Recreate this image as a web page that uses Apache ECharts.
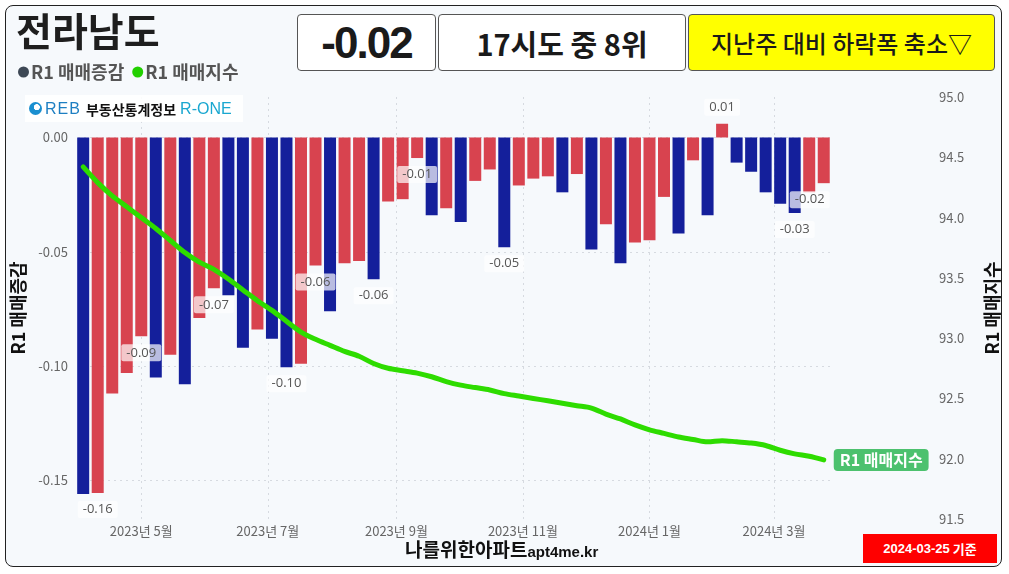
<!DOCTYPE html>
<html>
<head>
<meta charset="utf-8">
<title>전라남도 R1 매매</title>
<script src="https://cdn.jsdelivr.net/npm/echarts@6/dist/echarts.min.js"></script>
<style>
body { margin: 0; background: #fff; font-family: 'Noto Sans CJK KR', sans-serif; }
#card { position: absolute; left: 5px; top: 5px; width: 995px; height: 560px; border: 1.5px solid #222; border-radius: 8px; background: #f6f9fc; }
#chart { position: absolute; left: 0; top: 0; width: 1009px; height: 574px; }
.box { position: absolute; top: 14px; height: 57px; box-sizing: border-box; border: 1px solid #555; border-radius: 4px; background: #fff;
       display: flex; align-items: center; justify-content: center; color: #1a1a1a; }
#logo { position: absolute; left: 25px; top: 95px; width: 218px; height: 27px; background: rgba(255,255,255,0.9);
        display: flex; align-items: center; white-space: nowrap; }
#logo .ic { display: inline-block; width: 13px; height: 13px; border-radius: 50%; margin: 0 3px 0 4px;
            background: radial-gradient(circle at 60% 40%, #fff 0 25%, #1a8fd0 30% 100%); }
#foot { position: absolute; left: 405px; top: 535px; font-weight: bold; color: #111; white-space: nowrap; }
#date { position: absolute; left: 863px; top: 534px; width: 134px; height: 29px; background: #f00; color: #fff;
        display: flex; align-items: center; justify-content: center; font-size: 13px; font-weight: bold; }
</style>
</head>
<body>
<div id="card"></div>
<div id="chart"></div>

<div class="box" style="left:297px;width:139px;font-family:'Liberation Sans',Arial,sans-serif;font-weight:bold;font-size:44px;letter-spacing:-2px;">-0.02</div>
<div class="box" style="left:438px;width:248px;font-weight:bold;font-size:29px;">17시도 중 8위</div>
<div class="box" style="left:688px;width:307px;background:#ffff00;font-size:24px;font-weight:500;">지난주 대비 하락폭 축소▽</div>

<div id="logo">
  <span class="ic"></span>
  <span style="color:#1d7fc2;font-family:'Liberation Sans',sans-serif;font-size:16px;letter-spacing:1px;">REB</span>
  <span style="font-size:14px;font-weight:bold;color:#111;margin-left:5px;">부동산통계정보</span>
  <span style="color:#19a7d0;font-family:'Liberation Sans',sans-serif;font-size:16px;margin-left:4px;">R-ONE</span>
</div>

<div id="foot"><span style="font-size:19px;">나를위한아파트</span><span style="font-size:15px;font-family:'Liberation Sans',sans-serif;">apt4me.kr</span></div>
<div id="date"><span style="font-family:'Liberation Sans',sans-serif;">2024-03-25</span>&nbsp;기준</div>

<script>
// 주간 데이터 (2023-04-03 ~ 2024-03-25)
var weeks = [
    '2023-04-03','2023-04-10','2023-04-17','2023-04-24','2023-05-01','2023-05-08','2023-05-15','2023-05-22','2023-05-29',
    '2023-06-05','2023-06-12','2023-06-19','2023-06-26','2023-07-03','2023-07-10','2023-07-17','2023-07-24','2023-07-31',
    '2023-08-07','2023-08-14','2023-08-21','2023-08-28','2023-09-04','2023-09-11','2023-09-18','2023-09-25',
    '2023-10-02','2023-10-09','2023-10-16','2023-10-23','2023-10-30','2023-11-06','2023-11-13','2023-11-20','2023-11-27',
    '2023-12-04','2023-12-11','2023-12-18','2023-12-25','2024-01-01','2024-01-08','2024-01-15','2024-01-22','2024-01-29',
    '2024-02-05','2024-02-12','2024-02-19','2024-02-26','2024-03-04','2024-03-11','2024-03-18','2024-03-25'
];

// R1 매매증감 (%)
var changes = [
    -0.156, -0.1555, -0.112, -0.103, -0.087, -0.105, -0.095, -0.108, -0.079,
    -0.066, -0.069, -0.092, -0.084, -0.088, -0.1005, -0.099, -0.056, -0.076,
    -0.055, -0.054, -0.062, -0.028, -0.027, -0.009, -0.034, -0.031,
    -0.037, -0.019, -0.014, -0.048, -0.021, -0.018, -0.017, -0.024, -0.016,
    -0.049, -0.038, -0.055, -0.046, -0.045, -0.026, -0.042, -0.010, -0.034,
    0.006, -0.011, -0.015, -0.024, -0.029, -0.033, -0.024, -0.020
];

// R1 매매지수
var index = [
    94.42, 94.29, 94.18, 94.09, 94.00, 93.91, 93.81, 93.71, 93.63,
    93.57, 93.49, 93.40, 93.31, 93.23, 93.14, 93.05, 92.99, 92.94,
    92.89, 92.85, 92.79, 92.75, 92.73, 92.71, 92.68, 92.64,
    92.61, 92.59, 92.57, 92.54, 92.52, 92.50, 92.48, 92.46, 92.44,
    92.42, 92.37, 92.33, 92.28, 92.24, 92.21, 92.18, 92.16, 92.14,
    92.15, 92.14, 92.13, 92.11, 92.07, 92.04, 92.02, 91.99
];

// 값 표시할 주 (인덱스)
var labelWeeks = [1, 4, 9, 14, 16, 20, 23, 29, 44, 49, 51];

var monthTicks = ['2023-05-01', '2023-07-01', '2023-09-01', '2023-11-01', '2024-01-01', '2024-03-01'];
var leftTicks = [0, -0.05, -0.10, -0.15];

function toTime(s) {
    var p = s.split(/[- :]/);
    return new Date(+p[0], +p[1] - 1, +p[2], +(p[3] || 0)).getTime();
}

var RED = '#d8434f', BLUE = '#141f9b', GREEN = '#2edc00';
var KR = "'Noto Sans CJK KR', sans-serif";

var barData = [];
var lineData = [];
for (var i = 0; i < weeks.length; i++) {
    var up = i > 0 && changes[i] >= changes[i - 1];
    var item = {
        value: [toTime(weeks[i]), changes[i]],
        itemStyle: { color: up ? RED : BLUE }
    };
    if (labelWeeks.indexOf(i) >= 0) {
        item.label = { show: true };
        if (i == weeks.length - 1) item.label.offset = [-14, 0];
    }
    barData.push(item);
    lineData.push([toTime(weeks[i]), index[i]]);
}

var gridLine = { show: true, lineStyle: { color: '#d6dae0', type: [2, 4], width: 1 } };

var option = {
    animation: false,
    textStyle: { fontFamily: KR },
    title: {
        text: '전라남도',
        left: 11, top: 7,
        textStyle: { fontSize: 39, fontWeight: 'bold', color: '#1e1e1e', fontFamily: KR }
    },
    legend: {
        left: 13, top: 58,
        icon: 'circle',
        itemWidth: 11, itemHeight: 11, itemGap: 8,
        textStyle: { fontSize: 18, fontWeight: 'bold', color: '#555', fontFamily: KR, padding: [0, 0, 0, -3] },
        data: [
            { name: 'R1 매매증감', itemStyle: { color: '#3d4855' } },
            { name: 'R1 매매지수', itemStyle: { color: '#22d000' } }
        ]
    },
    grid: { left: 78, right: 174, top: 97, bottom: 55 },
    xAxis: {
        type: 'value',
        min: toTime('2023-03-31 12'),
        max: toTime('2024-03-28 12'),
        axisLine: { show: false },
        axisTick: { show: false, customValues: monthTicks.map(toTime) },
        axisLabel: {
            customValues: monthTicks.map(toTime),
            color: '#666', fontSize: 13, margin: 6,
            formatter: function (v) {
                var d = new Date(v);
                return d.getFullYear() + '년 ' + (d.getMonth() + 1) + '월';
            }
        },
        splitLine: gridLine
    },
    yAxis: [
        {
            type: 'value',
            min: -0.1669, max: 0.0177,
            name: 'R1 매매증감', nameLocation: 'middle', nameGap: 50, nameRotate: 90,
            nameTextStyle: { fontSize: 18, fontWeight: 'bold', color: '#111' },
            axisLine: { show: false },
            axisTick: { show: false, customValues: leftTicks },
            axisLabel: {
                customValues: leftTicks, color: '#666', fontSize: 13, margin: 10,
                formatter: function (v) { return v.toFixed(2); }
            },
            splitLine: gridLine
        },
        {
            type: 'value',
            position: 'right', offset: 100,
            min: 91.5, max: 95, interval: 0.5,
            name: 'R1 매매지수', nameLocation: 'middle', nameGap: 52, nameRotate: 90,
            nameTextStyle: { fontSize: 18, fontWeight: 'bold', color: '#111' },
            axisLine: { show: false },
            axisTick: { show: false },
            axisLabel: {
                color: '#666', fontSize: 13, margin: 8,
                formatter: function (v) { return v.toFixed(1); }
            },
            splitLine: { show: false }
        }
    ],
    series: [
        {
            name: 'R1 매매증감',
            type: 'bar',
            barWidth: 12,
            data: barData,
            label: {
                show: false,
                position: 'outside',
                distance: 8,
                color: '#555',
                fontSize: 13,
                fontFamily: "'Open Sans', sans-serif",
                backgroundColor: 'rgba(255,255,255,0.7)',
                padding: [2, 5],
                borderRadius: 2,
                formatter: function (p) { return p.value[1].toFixed(2); }
            },
            z: 2
        },
        {
            name: 'R1 매매지수',
            type: 'line',
            yAxisIndex: 1,
            data: lineData,
            showSymbol: false,
            smooth: 0.3,
            lineStyle: { width: 5, color: GREEN, cap: 'round' },
            itemStyle: { color: GREEN },
            endLabel: {
                show: true,
                formatter: 'R1 매매지수',
                distance: 10,
                backgroundColor: '#4cc16e',
                color: '#fff',
                fontSize: 16,
                fontWeight: 'bold',
                padding: [3, 6],
                borderRadius: 4
            },
            z: 3
        }
    ]
};

var chart = echarts.init(document.getElementById('chart'));
chart.setOption(option);
</script>
</body>
</html>
